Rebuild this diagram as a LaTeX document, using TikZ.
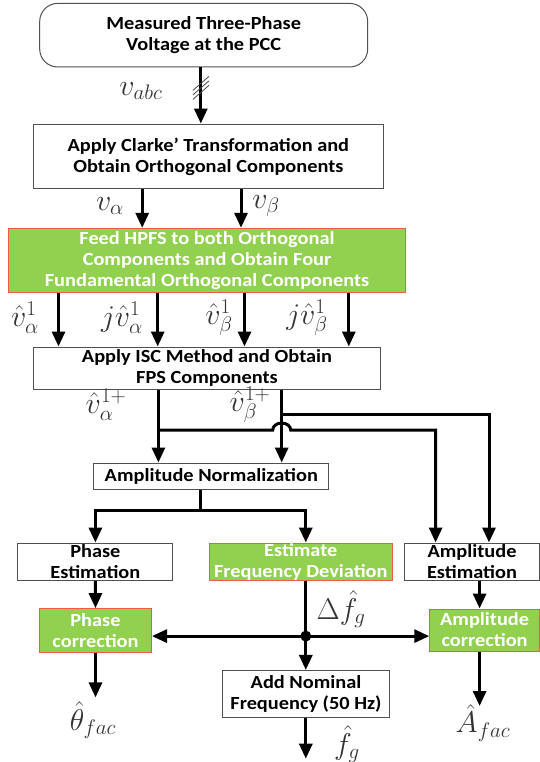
\RequirePackage{fix-cm}
\documentclass[tikz,border=0pt]{standalone}
\usepackage{fontspec}
\setmainfont{Carlito}[FakeStretch=1.1]
\usetikzlibrary{arrows.meta,calc}
\definecolor{gfill}{HTML}{92D050}
\definecolor{gedge}{HTML}{F05A46}
\definecolor{bedge}{HTML}{505050}
\begin{document}
\begin{tikzpicture}[x=1pt,y=-1pt,
  box/.style={draw=bedge,line width=1pt,fill=white,inner sep=0pt,align=center,
    font=\fontsize{18.5}{21}\selectfont\bfseries},
  gbox/.style={box,draw=gedge,fill=gfill,text=white},
  arr/.style={line width=3pt,line join=miter,-{Triangle[length=15pt,width=13pt]}},
  ln/.style={line width=3pt},
  hatchline/.style={line width=0.8pt,draw=black!70},
  lbl/.style={inner sep=0pt,text=black!80,font=\fontsize{30}{34}\selectfont}]
\fill[white] (0,0) rectangle (540,762);
\useasboundingbox (0,0) rectangle (540,762);

% boxes
\node[box,rounded corners=18pt,minimum width=328pt,minimum height=63.6pt] (top) at (203.7,35.2) {Measured Three-Phase\\Voltage at the PCC};
\node[box,minimum width=350pt,minimum height=64.7pt] (clarke) at (208.4,156.4) {Apply Clarke’ Transformation and\\Obtain Orthogonal Components};
\node[gbox,minimum width=396.7pt,minimum height=64pt] (hpfs) at (207,260.3) {Feed HPFS to both Orthogonal\\Components and Obtain Four\\Fundamental Orthogonal Components};
\node[box,minimum width=347pt,minimum height=42.4pt] (isc) at (207,368.2) {Apply ISC Method and Obtain\\FPS Components};
\node[box,minimum width=235pt,minimum height=26.5pt] (norm) at (211.3,476.3) {Amplitude Normalization};
\node[box,minimum width=155pt,minimum height=37.3pt] (phase) at (95.4,561.7) {Phase\\Estimation};
\node[gbox,minimum width=183.6pt,minimum height=37pt] (freq) at (300.8,561.5) {Estimate\\Frequency Deviation};
\node[box,minimum width=134.7pt,minimum height=37pt] (ampest) at (472,561.5) {Amplitude\\Estimation};
\node[gbox,minimum width=112pt,minimum height=43.4pt] (phcorr) at (95.5,630.3) {Phase\\correction};
\node[gbox,minimum width=109.7pt,minimum height=42pt] (ampcorr) at (484.6,630) {Amplitude\\correction};
\node[box,minimum width=166.3pt,minimum height=47.5pt] (addnom) at (306,694.2) {Add Nominal\\Frequency (50 Hz)};

% helper coordinates
\coordinate (xv) at (200.8,0);
\coordinate (hatch) at (200.8,88);
\coordinate (ca) at (142.2,0);
\coordinate (cb) at (241,0);
\coordinate (c1) at (58.5,0);
\coordinate (c2) at (157.7,0);
\coordinate (c3) at (244.5,0);
\coordinate (c4) at (348.8,0);
\coordinate (ja) at (158.4,430);
\coordinate (jb) at (281.7,414.5);
\coordinate (xl) at (435.6,0);
\coordinate (xr) at (489,0);
\coordinate (nsplit) at (200.8,510.9);
\coordinate (xf) at (305.8,0);
\coordinate (xa) at (479.6,0);
\coordinate (dot) at (305.8,636.1);
\coordinate (thend) at (95.5,697.4);
\coordinate (aend) at (479.6,706);
\coordinate (fend) at (305.8,758.7);

% connectors
\draw[arr] (top.south -| xv) -- (clarke.north -| xv);
\foreach \k in {-4.5,0,4.5}
  \draw[hatchline] ($(hatch)+(-8,7+\k)$) -- ($(hatch)+(8,-7+\k)$);
\draw[arr] (clarke.south -| ca) -- (hpfs.north -| ca);
\draw[arr] (clarke.south -| cb) -- (hpfs.north -| cb);
\foreach \c in {c1,c2,c3,c4}
  \draw[arr] (hpfs.south -| \c) -- (isc.north -| \c);
\draw[arr] (isc.south -| ja) -- (norm.north -| ja);
\draw[arr] (isc.south -| jb) -- (norm.north -| jb);
\draw[arr] (jb) -- (jb -| xr) -- (ampest.north -| xr);
\draw[arr] (ja) -- ($(jb |- ja)+(-9,0)$) arc[start angle=180,end angle=360,x radius=9,y radius=7]
  -- (ja -| xl) -- (ampest.north -| xl);
\draw[ln] (norm.south -| nsplit) -- (nsplit);
\draw[arr] (nsplit) -| (phase.north);
\draw[arr] (nsplit) -| (freq.north -| xf);
\draw[arr] (phase.south) -- (phcorr.north);
\draw[arr] (ampest.south -| xa) -- (ampcorr.north -| xa);
\draw[ln] (freq.south -| dot) -- (dot);
\draw[arr] (dot) -- (phcorr.east |- dot);
\draw[arr] (dot) -- (ampcorr.west |- dot);
\draw[arr] (dot) -- (addnom.north -| dot);
\draw[arr] (addnom.south -| dot) -- (fend);
\draw[arr] (phcorr.south) -- (thend);
\draw[arr] (ampcorr.south -| xa) -- (aend);
\fill (dot) circle[radius=5.5];

% labels
\node[lbl] (lvabc) at (141,91) {$v_{abc}$};
\node[lbl] (lva) at (110,206) {$v_\alpha$};
\node[lbl] (lvb) at (266,206) {$v_\beta$};
\node[lbl] (l1) at (25,318) {$\hat{v}_\alpha^1$};
\node[lbl] (l2) at (122,318) {$j\hat{v}_\alpha^1$};
\node[lbl] (l3) at (219,318) {$\hat{v}_\beta^1$};
\node[lbl] (l4) at (307,318) {$j\hat{v}_\beta^1$};
\node[lbl] (l5) at (106,405) {$\hat{v}_\alpha^{1+}$};
\node[lbl] (l6) at (250,405) {$\hat{v}_\beta^{1+}$};
\node[lbl] (ldf) at (341,609) {$\Delta\hat{f}_g$};
\node[lbl] (lth) at (93,720) {$\hat{\theta}_{fac}$};
\node[lbl] (lA) at (483,723) {$\hat{A}_{fac}$};
\node[lbl] (lf) at (347,744) {$\hat{f}_g$};
\end{tikzpicture}
\end{document}
